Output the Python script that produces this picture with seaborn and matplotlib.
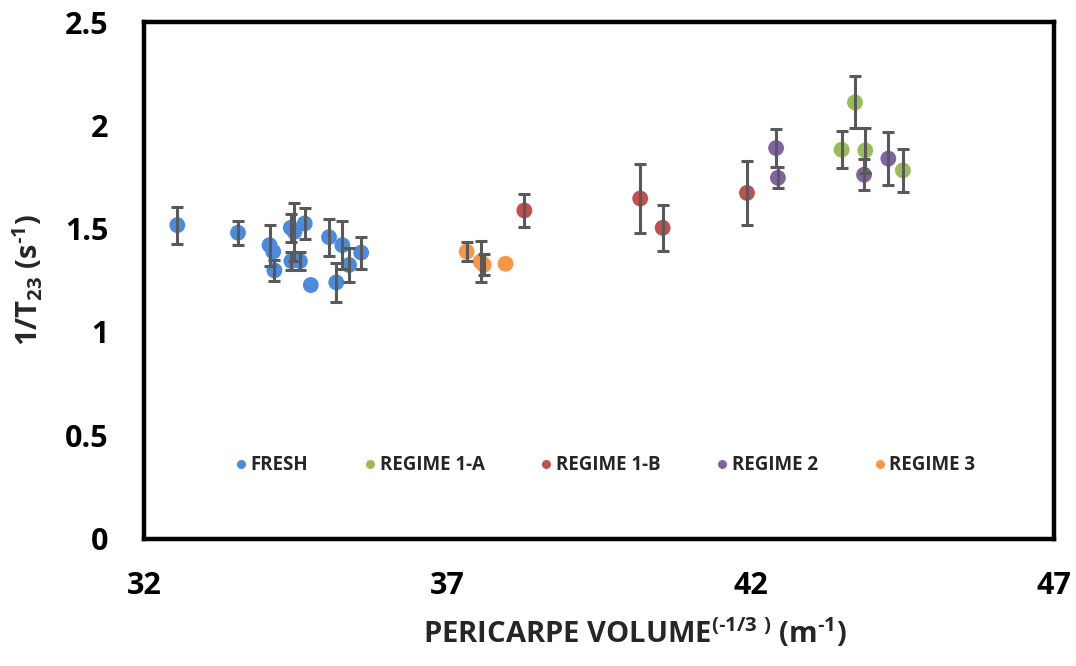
import numpy as np
import pandas as pd
import seaborn as sns
import matplotlib.pyplot as plt

# values
fresh_x = [32.55, 33.55, 34.07, 34.13, 34.15, 34.42, 34.48, 34.65, 34.43, 34.57, 34.75, 35.05, 35.27, 35.17, 35.38, 35.58]
fresh_y = [1.517, 1.48, 1.42, 1.389, 1.298, 1.504, 1.485, 1.525, 1.343, 1.343, 1.227, 1.459, 1.42, 1.24, 1.324, 1.384]
fresh_err = [0.09, 0.058, 0.10, 0.0, 0.05, 0.067, 0.14, 0.077, 0.045, 0.045, 0.0, 0.09, 0.115, 0.093, 0.08, 0.077]

r1a_x = [43.50, 43.72, 43.89, 44.51]
r1a_y = [1.882, 2.111, 1.879, 1.782]
r1a_err = [0.09, 0.126, 0.108, 0.105]

r1b_x = [38.27, 40.18, 40.55, 41.94]
r1b_y = [1.588, 1.646, 1.504, 1.673]
r1b_err = [0.08, 0.165, 0.11, 0.155]

r2_x = [42.42, 42.45, 43.87, 44.27]
r2_y = [1.89, 1.746, 1.761, 1.839]
r2_err = [0.09, 0.05, 0.075, 0.13]

r3_x = [37.32, 37.55, 37.60, 37.96]
r3_y = [1.389, 1.34, 1.325, 1.33]
r3_err = [0.048, 0.10, 0.05, 0.0]

groups = ["FRESH", "REGIME 1-A", "REGIME 1-B", "REGIME 2", "REGIME 3"]
colors = ["#4C8BDB", "#9BBB59", "#C0504D", "#8064A2", "#F79646"]

frames = []
for name, xs, ys, es in [("FRESH", fresh_x, fresh_y, fresh_err),
                         ("REGIME 1-A", r1a_x, r1a_y, r1a_err),
                         ("REGIME 1-B", r1b_x, r1b_y, r1b_err),
                         ("REGIME 2", r2_x, r2_y, r2_err),
                         ("REGIME 3", r3_x, r3_y, r3_err)]:
    frames.append(pd.DataFrame({"x": xs, "y": ys, "err": es, "group": name}))
df = pd.concat(frames, ignore_index=True)

sns.set_style("white")
plt.rcParams['font.family'] = ['Open Sans', 'DejaVu Sans']
plt.rcParams['mathtext.fontset'] = 'custom'
plt.rcParams['mathtext.rm'] = 'Open Sans'
plt.rcParams['mathtext.bf'] = 'Open Sans:bold'

fig = plt.figure(figsize=(10.76, 6.66), dpi=100)
ax = fig.add_axes([0.1338, 0.1914, 0.8457, 0.7755])

sns.scatterplot(data=df, x="x", y="y", hue="group", hue_order=groups,
                palette=colors, s=130, edgecolor="none", ax=ax, zorder=2)

has_err = df[df["err"] > 0]
ax.errorbar(has_err["x"], has_err["y"], yerr=has_err["err"], fmt="none",
            ecolor="#595959", elinewidth=2.2, capsize=4.5, capthick=2.2, zorder=3)

ax.set_xlim(32, 47)
ax.set_ylim(0, 2.5)
ax.set_xticks([32, 37, 42, 47])
ax.set_yticks([0, 0.5, 1, 1.5, 2, 2.5])
ax.set_xticklabels(["32", "37", "42", "47"], fontweight="bold")
ax.set_yticklabels(["0", "0.5", "1", "1.5", "2", "2.5"], fontweight="bold")
for s in ax.spines.values():
    s.set_color("black")
    s.set_linewidth(3.2)
ax.tick_params(axis="both", direction="out", length=8.5, width=3, colors="black",
               labelsize=22)
ax.tick_params(axis="y", pad=17)
ax.tick_params(axis="x", pad=15)

ax.set_xlabel("PERICARPE VOLUME$^{\\mathbf{(\u20101/3\\ )}}$ (m$^{\\mathbf{\u20101}}$)",
              fontsize=21, fontweight="bold")
ax.xaxis.set_label_coords(0.54, -0.15)
ax.set_ylabel("1/T$_{\\mathbf{23}}$ (s$^{\\mathbf{\u20101}}$)",
              fontsize=21, fontweight="bold", labelpad=14)

handles, labels = ax.get_legend_handles_labels()
for h in handles:
    h.set_markersize(6.5)
leg = ax.legend(handles, labels, loc="center", bbox_to_anchor=(0.507, 0.142),
                ncol=5, frameon=False, handletextpad=0.2, columnspacing=3.0,
                handlelength=0.6, prop={"weight": "bold", "size": 13.5})

fig.savefig("out.png", dpi=100)
